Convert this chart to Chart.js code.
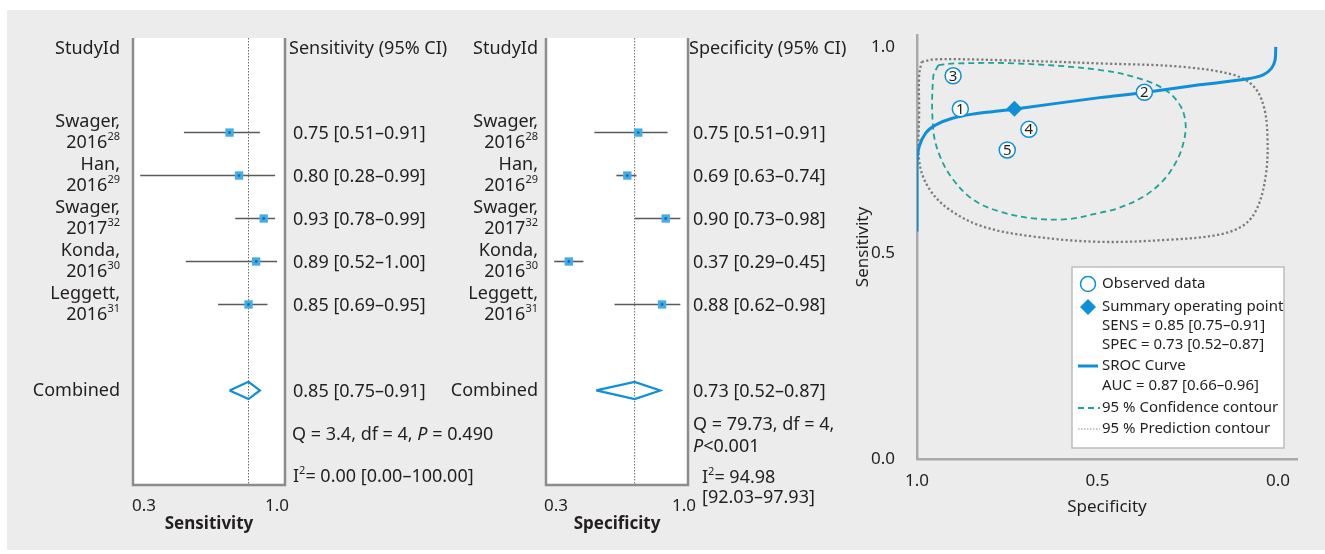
<!DOCTYPE html>
<html>
<head>
<meta charset="utf-8">
<script src="https://cdn.jsdelivr.net/npm/chart.js@4.4.1/dist/chart.umd.min.js"></script>
<style>
html, body { margin: 0; padding: 0; background: #fff; }
#wrap { position: relative; width: 1325px; height: 554px; overflow: hidden; }
#bg { position: absolute; left: 7px; top: 10px; width: 1318px; height: 540px; background: #ebeceb; }
canvas { position: absolute; left: 0; top: 0; }
</style>
</head>
<body>
<div id="wrap">
  <div id="bg"></div>
  <canvas id="sensForest" width="1325" height="554"></canvas>
  <canvas id="specForest" width="1325" height="554"></canvas>
  <canvas id="srocPlot" width="1325" height="554"></canvas>
</div>
<script>
// studies
const studyNames = ['Swager', 'Han', 'Swager', 'Konda', 'Leggett'];
const studyYears = ['2016', '2016', '2017', '2016', '2016'];
const studyRefs = ['28', '29', '32', '30', '31'];

// sensitivity per study
const sens = [0.75, 0.80, 0.93, 0.89, 0.85];
const sensLo = [0.51, 0.28, 0.78, 0.52, 0.69];
const sensHi = [0.91, 0.99, 0.99, 1.00, 0.95];
const sensPooled = [0.85, 0.75, 0.91];

// specificity per study
const spec = [0.75, 0.69, 0.90, 0.37, 0.88];
const specLo = [0.51, 0.63, 0.73, 0.29, 0.62];
const specHi = [0.91, 0.74, 0.98, 0.45, 0.98];
const specPooled = [0.73, 0.52, 0.87];

const forestTicks = [0.3, 1.0];
const srocTicks = [0.0, 0.5, 1.0];

// SROC plot
const obsNumbers = ['5', '4', '3', '2', '1'];
const aucValues = [0.87, 0.66, 0.96];
const curveSpec = [1.0, 1.0, 0.994, 0.976, 0.948, 0.902, 0.846, 0.791, 0.733, 0.494, 0.374, 0.217, 0.087, 0.041, 0.018, 0.008, 0.006];
const curveSens = [0.552, 0.718, 0.758, 0.791, 0.811, 0.827, 0.837, 0.843, 0.849, 0.877, 0.889, 0.908, 0.922, 0.932, 0.948, 0.968, 1.0];
const confSpec = [0.941, 0.894, 0.723, 0.492, 0.372, 0.306, 0.269, 0.256, 0.260, 0.279, 0.317, 0.372, 0.445, 0.492, 0.584, 0.678, 0.769, 0.844, 0.899, 0.936, 0.955, 0.955];
const confSens = [0.956, 0.960, 0.960, 0.944, 0.920, 0.892, 0.855, 0.815, 0.774, 0.726, 0.677, 0.637, 0.608, 0.598, 0.582, 0.584, 0.600, 0.629, 0.677, 0.734, 0.799, 0.928];
const predSpec = [0.987, 0.950, 0.769, 0.492, 0.269, 0.122, 0.067, 0.039, 0.029, 0.033, 0.056, 0.094, 0.167, 0.306, 0.492, 0.678, 0.817, 0.908, 0.964, 0.993, 0.994, 0.994];
const predSens = [0.964, 0.970, 0.968, 0.960, 0.952, 0.932, 0.904, 0.855, 0.782, 0.693, 0.612, 0.568, 0.544, 0.532, 0.527, 0.540, 0.564, 0.604, 0.653, 0.718, 0.847, 0.932];

const FONT = '"Noto Sans", sans-serif';
const INK = '#231f20';
const BLUE = '#0e8fd8';
const FS = 18;

const fmt = v => v.toFixed(2);

function fontOf(kind, size) {
  if (kind === 'sup') return Math.round(size * 0.62) + 'px ' + FONT;
  if (kind === 'i') return 'italic ' + size + 'px ' + FONT;
  if (kind === 'b') return 'bold ' + size + 'px ' + FONT;
  return size + 'px ' + FONT;
}

// draws [[text, kind], ...] on one line
function richText(ctx, x, y, segs, size, align) {
  let w = 0;
  segs.forEach(([t, k]) => { ctx.font = fontOf(k, size); w += ctx.measureText(t).width; });
  let cx = align === 'right' ? x - w : x;
  ctx.textAlign = 'left';
  ctx.textBaseline = 'middle';
  ctx.fillStyle = INK;
  segs.forEach(([t, k]) => {
    ctx.font = fontOf(k, size);
    ctx.fillText(t, cx, k === 'sup' ? y - size * 0.3 : y);
    cx += ctx.measureText(t).width;
  });
}

function forestChart(id, o) {
  const pts = o.est.map((v, i) => ({x: v, y: i}));
  const datasets = [
    {data: [{x: o.pooled[0], y: -2.2}, {x: o.pooled[0], y: 8.2}], showLine: true, borderColor: '#6a6a6a',
      borderWidth: 1, borderDash: [1.5, 1.5], pointRadius: 0, order: 5},
    {data: [{x: o.pooled[1], y: 6}, {x: o.pooled[0], y: 5.8}, {x: o.pooled[2], y: 6}, {x: o.pooled[0], y: 6.2}, {x: o.pooled[1], y: 6}],
      showLine: true, borderColor: BLUE, borderWidth: 2.2, pointRadius: 0, order: 3},
    {data: pts, pointStyle: 'rect', pointRadius: 5.9, backgroundColor: '#44ade6', borderWidth: 0, order: 2},
    {data: pts, pointStyle: 'circle', pointRadius: 1.4, backgroundColor: '#0a6db5', borderWidth: 0, order: 1}
  ];
  o.est.forEach((v, i) => datasets.push({
    data: [{x: o.lo[i], y: i}, {x: o.hi[i], y: i}], showLine: true, borderColor: '#5a5a5a',
    borderWidth: 1.6, pointRadius: 0, order: 4
  }));

  const textPlugin = {
    id: 'forestText',
    beforeDraw(chart) {
      const {ctx, chartArea: a} = chart;
      ctx.save();
      ctx.fillStyle = '#fff';
      ctx.fillRect(a.left, a.top, a.right - a.left, a.bottom - a.top);
      ctx.restore();
    },
    afterDraw(chart) {
      const {ctx, chartArea: a} = chart;
      const y = chart.scales.y;
      ctx.save();
      ctx.strokeStyle = '#8c8c8c';
      ctx.lineWidth = 2.5;
      ctx.beginPath();
      ctx.moveTo(a.left, a.top); ctx.lineTo(a.left, a.bottom); ctx.lineTo(a.right, a.bottom); ctx.lineTo(a.right, a.top);
      ctx.stroke();

      const lx = a.left - o.labelGap, vx = a.right + o.valueGap;
      richText(ctx, lx, y.getPixelForValue(-2) + 2, [['StudyId', 'n']], FS, 'right');
      richText(ctx, vx - 4, y.getPixelForValue(-2) + 2, [[o.header, 'n']], FS, 'left');
      o.est.forEach((v, i) => {
        const py = y.getPixelForValue(i);
        richText(ctx, lx, py - 11, [[studyNames[i] + ',', 'n']], FS, 'right');
        richText(ctx, lx, py + 10, [[studyYears[i], 'n'], [studyRefs[i], 'sup']], FS, 'right');
        richText(ctx, vx, py + 1, [[fmt(v) + ' [' + fmt(o.lo[i]) + '–' + fmt(o.hi[i]) + ']', 'n']], FS, 'left');
      });
      const cy = y.getPixelForValue(6);
      richText(ctx, lx, cy, [['Combined', 'n']], FS, 'right');
      richText(ctx, vx, cy + 1, [[fmt(o.pooled[0]) + ' [' + fmt(o.pooled[1]) + '–' + fmt(o.pooled[2]) + ']', 'n']], FS, 'left');
      o.hetero.forEach(h => richText(ctx, a.right + h.dx, y.getPixelForValue(h.row) + h.dy, h.segs, FS, 'left'));
      ctx.restore();
    }
  };

  return new Chart(document.getElementById(id), {
    type: 'scatter',
    data: {datasets},
    options: {
      responsive: false,
      animation: false,
      layout: {padding: {left: o.left, right: 1325 - o.right, top: 38, bottom: 0}},
      plugins: {legend: {display: false}, tooltip: {enabled: false}},
      scales: {
        x: {
          type: 'linear', min: o.min, max: o.max,
          grid: {display: false}, border: {display: false},
          afterBuildTicks: s => { s.ticks = forestTicks.map(v => ({value: v})); },
          afterFit: s => { s.height = 69; },
          ticks: {font: {family: FONT, size: 17}, color: INK, padding: 3, maxRotation: 0, autoSkip: false,
            callback: v => Number(v).toFixed(1)},
          title: {display: true, text: o.axisTitle, color: INK, font: {family: FONT, size: 17, weight: 'bold'},
            padding: {top: 0, bottom: 20}}
        },
        y: {type: 'linear', min: -2.2, max: 8.2, reverse: true, display: false}
      }
    },
    plugins: [textPlugin]
  });
}

forestChart('sensForest', {
  est: sens, lo: sensLo, hi: sensHi, pooled: sensPooled,
  left: 133, right: 285, min: 0.242, max: 1.042,
  axisTitle: 'Sensitivity', header: 'Sensitivity (95% CI)', labelGap: 13, valueGap: 8,
  hetero: [
    {row: 7, dx: 7, dy: 1, segs: [['Q = 3.4, df = 4, ', 'n'], ['P', 'i'], [' = 0.490', 'n']]},
    {row: 8, dx: 8, dy: 0, segs: [['I', 'n'], ['2', 'sup'], ['= 0.00 [0.00–100.00]', 'n']]}
  ]
});

forestChart('specForest', {
  est: spec, lo: specLo, hi: specHi, pooled: specPooled,
  left: 546, right: 688, min: 0.2453, max: 1.0219,
  axisTitle: 'Specificity', header: 'Specificity (95% CI)', labelGap: 8, valueGap: 5,
  hetero: [
    {row: 7, dx: 5, dy: -9, segs: [['Q = 79.73, df = 4,', 'n']]},
    {row: 7, dx: 5, dy: 13, segs: [['P', 'i'], ['<0.001', 'n']]},
    {row: 8, dx: 14, dy: 1, segs: [['I', 'n'], ['2', 'sup'], ['= 94.98', 'n']]},
    {row: 8, dx: 14, dy: 21, segs: [['[92.03–97.93]', 'n']]}
  ]
});

// SROC plot
const toXY = (sp, se) => sp.map((v, i) => ({x: v, y: se[i]}));
const closed = pts => pts.concat([pts[0]]);

const srocPlugin = {
  id: 'srocText',
  afterDatasetsDraw(chart) {
    const {ctx} = chart;
    const meta = chart.getDatasetMeta(3);
    ctx.save();
    meta.data.forEach((p, i) => {
      ctx.font = '15px ' + FONT;
      ctx.fillStyle = INK;
      ctx.textAlign = 'center';
      ctx.textBaseline = 'middle';
      ctx.fillText(obsNumbers[i], p.x, p.y + 0.5);
    });
    ctx.restore();
  },
  afterDraw(chart) {
    const {ctx, chartArea: a} = chart;
    const L = a.right - 225, T = a.bottom - 192, W = 212, H = 181;
    ctx.save();
    ctx.fillStyle = '#fff';
    ctx.strokeStyle = '#bdbdbd';
    ctx.lineWidth = 1.5;
    ctx.fillRect(L, T, W, H);
    ctx.strokeRect(L, T, W, H);
    const ix = L + 16, tx = L + 30;
    // observed
    ctx.beginPath();
    ctx.arc(ix, T + 17, 7.5, 0, Math.PI * 2);
    ctx.fillStyle = '#fff'; ctx.fill();
    ctx.strokeStyle = BLUE; ctx.lineWidth = 1.5; ctx.stroke();
    // summary point
    ctx.beginPath();
    ctx.moveTo(ix, T + 32); ctx.lineTo(ix + 8, T + 40); ctx.lineTo(ix, T + 48); ctx.lineTo(ix - 8, T + 40); ctx.closePath();
    ctx.fillStyle = BLUE; ctx.fill();
    // sroc line
    ctx.beginPath(); ctx.moveTo(L + 6, T + 99); ctx.lineTo(L + 26, T + 99);
    ctx.strokeStyle = BLUE; ctx.lineWidth = 3; ctx.stroke();
    // confidence
    ctx.beginPath(); ctx.moveTo(L + 6, T + 141); ctx.lineTo(L + 28, T + 141);
    ctx.setLineDash([6, 4]); ctx.strokeStyle = '#1ea399'; ctx.lineWidth = 2.2; ctx.stroke();
    // prediction
    ctx.beginPath(); ctx.moveTo(L + 6, T + 162); ctx.lineTo(L + 28, T + 162);
    ctx.setLineDash([1.5, 1.5]); ctx.strokeStyle = '#8a8a8a'; ctx.lineWidth = 1.2; ctx.stroke();
    ctx.setLineDash([]);
    const rows = [
      ['Observed data', 17],
      ['Summary operating point', 40],
      ['SENS = ' + fmt(sensPooled[0]) + ' [' + fmt(sensPooled[1]) + '–' + fmt(sensPooled[2]) + ']', 59],
      ['SPEC = ' + fmt(specPooled[0]) + ' [' + fmt(specPooled[1]) + '–' + fmt(specPooled[2]) + ']', 78],
      ['SROC Curve', 99],
      ['AUC = ' + fmt(aucValues[0]) + ' [' + fmt(aucValues[1]) + '–' + fmt(aucValues[2]) + ']', 119],
      ['95 % Confidence contour', 141],
      ['95 % Prediction contour', 162]
    ];
    rows.forEach(([t, dy]) => richText(ctx, tx, T + dy, [[t, 'n']], 15, 'left'));
    ctx.restore();
  }
};

new Chart(document.getElementById('srocPlot'), {
  type: 'scatter',
  data: {
    datasets: [
      {data: closed(toXY(predSpec, predSens)), showLine: true, tension: 0.35, borderColor: '#7c7c7c', borderWidth: 2.3,
        borderDash: [2.2, 2.4], pointRadius: 0, order: 5},
      {data: closed(toXY(confSpec, confSens)), showLine: true, tension: 0.35, borderColor: '#1ea399', borderWidth: 1.8,
        borderDash: [6, 4], pointRadius: 0, order: 4},
      {data: toXY(curveSpec, curveSens), showLine: true, tension: 0.3, borderColor: BLUE, borderWidth: 3,
        pointRadius: 0, order: 3},
      {data: toXY(spec, sens), pointRadius: 8, backgroundColor: '#fff', borderColor: BLUE, borderWidth: 1.5, order: 2},
      {data: [{x: specPooled[0], y: sensPooled[0]}], pointStyle: 'rectRot', pointRadius: 8, backgroundColor: BLUE,
        borderWidth: 0, order: 1}
    ]
  },
  options: {
    responsive: false,
    animation: false,
    layout: {padding: {left: 851, right: 28, top: 35, bottom: 0}},
    plugins: {legend: {display: false}, tooltip: {enabled: false}},
    scales: {
      x: {
        type: 'linear', reverse: true, min: -0.0528, max: 1.0,
        grid: {display: false}, border: {color: '#a9a9a9', width: 2.5},
        afterBuildTicks: s => { s.ticks = srocTicks.map(v => ({value: v})); },
        afterFit: s => { s.height = 95; },
        ticks: {font: {family: FONT, size: 17}, color: INK, padding: 4, maxRotation: 0, autoSkip: false,
          callback: v => Number(v).toFixed(1)},
        title: {display: true, text: 'Specificity', color: INK, font: {family: FONT, size: 17}, padding: {top: 0, bottom: 37}}
      },
      y: {
        type: 'linear', min: 0, max: 1.029,
        grid: {display: false}, border: {color: '#a9a9a9', width: 2.5},
        afterBuildTicks: s => { s.ticks = srocTicks.map(v => ({value: v})); },
        afterFit: s => { s.width = 66; },
        ticks: {font: {family: FONT, size: 17}, color: INK, padding: 14,
          callback: v => Number(v).toFixed(1)},
        title: {display: true, text: 'Sensitivity', color: INK, font: {family: FONT, size: 17}, padding: {top: 2, bottom: 0}}
      }
    }
  },
  plugins: [srocPlugin]
});
</script>
</body>
</html>
